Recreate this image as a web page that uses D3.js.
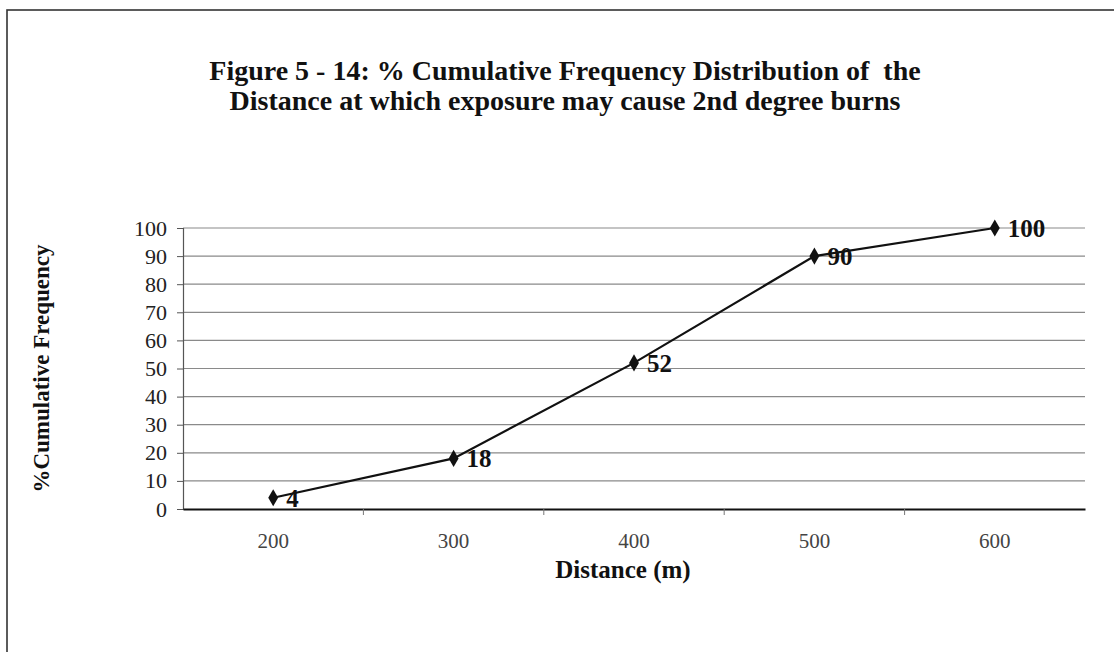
<!DOCTYPE html>
<html>
<head>
<meta charset="utf-8">
<script src="https://cdn.jsdelivr.net/npm/d3@7/dist/d3.min.js"></script>
<style>
  body { margin: 0; background: #fff; }
  svg { display: block; }
  text { font-family: "Liberation Serif", "Times New Roman", serif; fill: #111; }
</style>
</head>
<body>
<div id="chart"></div>
<script>
// data
var distances = ["200", "300", "400", "500", "600"];
var cumFreq = [4, 18, 52, 90, 100];
var yTicks = [0, 10, 20, 30, 40, 50, 60, 70, 80, 90, 100];

var width = 1114,
    height = 652,
    margin = { top: 228, right: 29, bottom: 143, left: 183 };

var svg = d3.select("#chart").append("svg")
    .attr("width", width)
    .attr("height", height);

// frame round the whole chart (right and bottom edges run off the page)
svg.append("rect")
    .attr("x", 7).attr("y", 10)
    .attr("width", 1300).attr("height", 800)
    .style("fill", "none")
    .style("stroke", "#333")
    .style("stroke-width", 1.6);

var title = svg.append("text")
    .attr("x", 565)
    .attr("text-anchor", "middle")
    .style("font-weight", "bold")
    .style("font-size", "28px")
    .style("white-space", "pre");
title.append("tspan").attr("x", 565).attr("y", 80)
    .text("Figure 5 - 14: % Cumulative Frequency Distribution of  the");
title.append("tspan").attr("x", 565).attr("y", 110)
    .text("Distance at which exposure may cause 2nd degree burns");

var g = svg.append("g")
    .attr("transform", "translate(" + margin.left + "," + margin.top + ")");

var w = width - margin.left - margin.right,
    h = height - margin.top - margin.bottom;

var x = d3.scaleBand().domain(distances).range([0, w]);
var y = d3.scaleLinear().domain([0, 100]).range([h, 0]);

// horizontal gridlines
g.append("g")
    .selectAll("line")
    .data(yTicks.slice(1))
    .enter().append("line")
    .attr("x1", 0).attr("x2", w)
    .attr("y1", d => y(d)).attr("y2", d => y(d))
    .style("stroke", "#8a8a8a")
    .style("stroke-width", 1.2);

// y axis
var yAxis = g.append("g")
    .call(d3.axisLeft(y).tickValues(yTicks).tickSize(6).tickPadding(10));
yAxis.select(".domain").style("stroke", "#555").style("stroke-width", 1.2);
yAxis.selectAll(".tick line").style("stroke", "#555");
yAxis.selectAll("text")
    .style("font-size", "22px")
    .style("font-family", "'Liberation Serif', serif")
    .style("fill", "#222");

// x axis, ticks between categories
var xAxis = g.append("g")
    .attr("transform", "translate(0," + h + ")")
    .call(d3.axisBottom(x).tickSize(0).tickPadding(24));
xAxis.select(".domain").style("stroke", "#111").style("stroke-width", 2);
xAxis.selectAll("text")
    .style("font-size", "21px")
    .style("font-family", "'Liberation Serif', serif")
    .style("fill", "#444");
xAxis.selectAll(".sep")
    .data(distances.slice(1))
    .enter().append("line")
    .attr("class", "sep")
    .attr("x1", d => x(d)).attr("x2", d => x(d))
    .attr("y1", 0).attr("y2", 6)
    .style("stroke", "#777");

var cx = d => x(d) + x.bandwidth() / 2;

var pts = distances.map((d, i) => ({ d: d, v: cumFreq[i] }));

g.append("path")
    .datum(pts)
    .attr("d", d3.line().x(p => cx(p.d)).y(p => y(p.v)))
    .style("fill", "none")
    .style("stroke", "#111")
    .style("stroke-width", 2.2);

g.selectAll(".pt")
    .data(pts)
    .enter().append("path")
    .attr("class", "pt")
    .attr("transform", p => "translate(" + cx(p.d) + "," + y(p.v) + ")")
    .attr("d", d3.symbol().type(d3.symbolDiamond).size(85))
    .style("fill", "#111");

g.selectAll(".lbl")
    .data(pts)
    .enter().append("text")
    .attr("class", "lbl")
    .attr("x", p => cx(p.d) + 13)
    .attr("y", p => y(p.v))
    .attr("dy", "0.35em")
    .style("font-size", "25px")
    .style("font-weight", "bold")
    .text(p => p.v);

// axis titles
svg.append("text")
    .attr("x", 623).attr("y", 578)
    .attr("text-anchor", "middle")
    .style("font-weight", "bold")
    .style("font-size", "25px")
    .text("Distance (m)");

svg.append("text")
    .attr("transform", "translate(49," + (margin.top + h / 2) + ") rotate(-90)")
    .attr("text-anchor", "middle")
    .style("font-weight", "bold")
    .style("font-size", "23px")
    .text("%Cumulative Frequency");
</script>
</body>
</html>
